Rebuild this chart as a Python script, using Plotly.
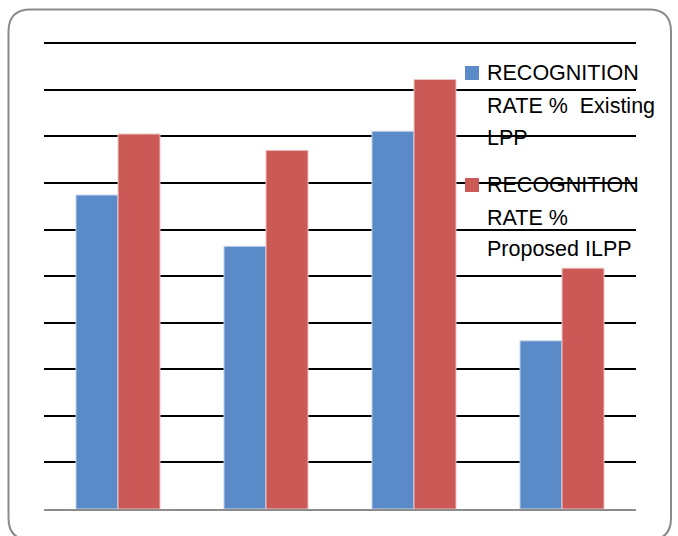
import plotly.graph_objects as go

# ---- data ----
categories = ["1", "2", "3", "4"]
existing_lpp = [67.4, 56.4, 81.1, 36.1]
proposed_ilpp = [80.5, 77.0, 92.2, 51.7]
series_names = ["RECOGNITION RATE %  Existing LPP", "RECOGNITION RATE % Proposed ILPP"]
legend_lines = [["RECOGNITION", "RATE %\u00a0\u00a0Existing", "LPP"],
                ["RECOGNITION", "RATE %", "Proposed ILPP"]]
y_ticks = [0, 10, 20, 30, 40, 50, 60, 70, 80, 90, 100]

BLUE = "#5A8BC8"
RED = "#CB5A56"

W, H = 678, 536
L, R, T, B = 44, 42, 42, 27
PW, PH = W - L - R, H - T - B


def px(x):
    return (x - L) / PW


def py(y):
    return (H - B - y) / PH


fig = go.Figure()
fig.add_trace(go.Bar(x=categories, y=existing_lpp, name=series_names[0],
                     marker=dict(color=BLUE, line=dict(color="#c9d6ea", width=1))))
fig.add_trace(go.Bar(x=categories, y=proposed_ilpp, name=series_names[1],
                     marker=dict(color=RED, line=dict(color="#ecc7c6", width=1))))

shapes = []
# rounded outer frame
x0, x1, y0, y1, r = 8.5, 671, 9.5, 540, 22
path = (f"M {px(x0 + r)},{py(y0)} L {px(x1 - r)},{py(y0)} "
        f"Q {px(x1)},{py(y0)} {px(x1)},{py(y0 + r)} "
        f"L {px(x1)},{py(y1 - r)} Q {px(x1)},{py(y1)} {px(x1 - r)},{py(y1)} "
        f"L {px(x0 + r)},{py(y1)} Q {px(x0)},{py(y1)} {px(x0)},{py(y1 - r)} "
        f"L {px(x0)},{py(y0 + r)} Q {px(x0)},{py(y0)} {px(x0 + r)},{py(y0)} Z")
shapes.append(dict(type="path", path=path, xref="paper", yref="paper",
                   line=dict(color="#8a8a8a", width=2), layer="below"))

# legend markers and text
annotations = []
legend_colors = [BLUE, RED]
square_tops = [66, 178]
line_centers = [[72.5, 105.5, 137.5], [185, 218, 249]]
for i in range(2):
    shapes.append(dict(type="rect", xref="paper", yref="paper",
                       x0=px(465), x1=px(479), y0=py(square_tops[i]), y1=py(square_tops[i] + 14),
                       fillcolor=legend_colors[i], line=dict(width=0)))
    for txt, yc in zip(legend_lines[i], line_centers[i]):
        annotations.append(dict(text=txt, xref="paper", yref="paper", x=px(485), y=py(yc),
                                xanchor="left", yanchor="middle", showarrow=False,
                                font=dict(family="Liberation Sans", size=21.5, color="#000000")))

fig.update_layout(
    width=W, height=H,
    margin=dict(l=L, r=R, t=T, b=B),
    paper_bgcolor="white", plot_bgcolor="white",
    barmode="group", bargap=0.432, bargroupgap=0,
    showlegend=False,
    shapes=shapes, annotations=annotations,
    xaxis=dict(showticklabels=False, ticks="", showgrid=False, zeroline=False,
               showline=True, linecolor="#8c8c8c", linewidth=2, range=[-0.5, 3.5]),
    yaxis=dict(range=[0, 100.25], tickvals=y_ticks, showticklabels=False, ticks="",
               showgrid=True, gridcolor="#000000", gridwidth=2, zeroline=False,
               showline=False),
)

fig.write_html("out.html")
